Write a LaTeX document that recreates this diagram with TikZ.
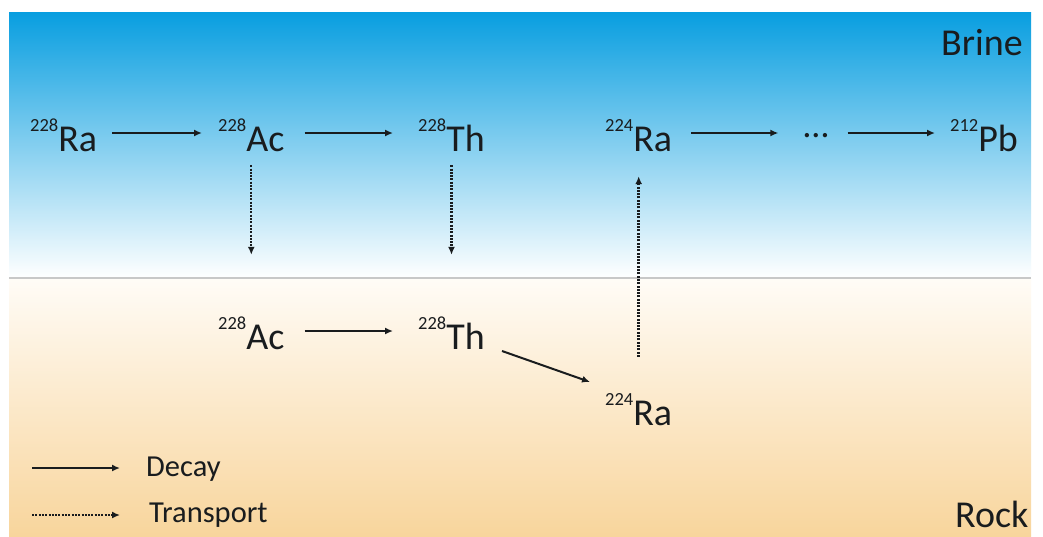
\documentclass[tikz,border=0pt]{standalone}
\usepackage{fontspec}
\setmainfont{Carlito}
\usetikzlibrary{arrows.meta}
\definecolor{ink}{RGB}{25,28,30}
\definecolor{bluetop}{RGB}{8,158,224}
\definecolor{bluemid}{RGB}{95,192,236}
\definecolor{sandtop}{RGB}{255,252,247}
\definecolor{sandbot}{RGB}{248,213,156}
\definecolor{sepline}{RGB}{200,200,200}
\newcommand{\iso}[2]{\raisebox{20pt}{\fontsize{18.5}{19}\selectfont #1}#2}
\tikzset{
  isonode/.style={anchor=base west, inner sep=0pt, text height=36pt, text depth=0pt,
                  font=\fontsize{38}{40}\selectfont, text=ink},
  lbl/.style={anchor=base west, inner sep=0pt, text=ink},
  decay/.style={draw=ink, line width=2pt, -{Latex[length=8pt,width=7pt]}},
  transport/.style={draw=ink, line width=2.4pt, dash pattern=on 2pt off 1.3pt,
                    -{Latex[length=8pt,width=7pt]}}
}
\begin{document}
\begin{tikzpicture}[x=1pt,y=-1pt]
\useasboundingbox (0,0) rectangle (1043,536);
\fill[white] (0,0) rectangle (1043,536);
% backgrounds
\shade[top color=bluetop, middle color=bluemid, bottom color=white] (9,12) rectangle (1031,278);
\shade[top color=sandtop, bottom color=sandbot] (9,278) rectangle (1031,536);
\draw[sepline, line width=1.2pt] (9,278) -- (1031,278);
% region labels
\node[lbl, font=\fontsize{38}{40}\selectfont] (brine) at (941,55) {Brine};
\node[lbl, font=\fontsize{38}{40}\selectfont] (rock) at (955,527) {Rock};
% brine row
\node[isonode] (Ra1) at (30,151) {\iso{228}{Ra}};
\node[isonode] (Ac1) at (218,151) {\iso{228}{Ac}};
\node[isonode] (Th1) at (418,151) {\iso{228}{Th}};
\node[isonode] (Ra2) at (605,151) {\iso{224}{Ra}};
\node[anchor=base, inner sep=0pt, text=ink, font=\fontsize{36}{38}\selectfont] (dots) at (816,137) {…};
\node[isonode] (Pb) at (950,151) {\iso{212}{Pb}};
% rock row
\node[isonode] (Ac2) at (218,349) {\iso{228}{Ac}};
\node[isonode] (Th2) at (418,349) {\iso{228}{Th}};
\node[isonode] (Ra3) at (605,425) {\iso{224}{Ra}};
% decays (brine)
\draw[decay] ([xshift=15pt]Ra1.east) -- ([xshift=-16pt]Ac1.west);
\draw[decay] ([xshift=20pt]Ac1.east) -- ([xshift=-25pt]Th1.west);
\draw[decay] ([xshift=19pt]Ra2.east) -- ([xshift=-25pt]Ra2.east -| dots.west);
\draw[decay] ([xshift=19pt]Ra2.east -| dots.east) -- ([xshift=-15pt]Pb.west);
% decays (rock)
\draw[decay] ([xshift=20pt]Ac2.east) -- ([xshift=-25pt]Th2.west);
\draw[decay] ([xshift=17pt,yshift=-20pt]Th2.east) -- ([xshift=-15pt,yshift=25pt]Ra3.west);
% transports
\draw[transport] ([yshift=-14pt]Ac1.south) -- ([yshift=58pt]Ac2.north);
\draw[transport] ([yshift=-14pt]Th1.south) -- ([yshift=58pt]Th2.north);
\draw[transport] ([yshift=32pt]Ra3.north) -- ([yshift=-25pt]Ra2.south);
% legend
\node[lbl, font=\fontsize{30.5}{32}\selectfont] (dec) at (146,476) {Decay};
\node[lbl, font=\fontsize{30.5}{32}\selectfont] (tra) at (149,522) {Transport};
\coordinate (l1) at (32,468);
\coordinate (l2) at (32,515);
\draw[decay] (l1) -- ([xshift=-26pt]l1 -| dec.west);
\draw[transport] (l2) -- ([xshift=-29pt]l2 -| tra.west);
\end{tikzpicture}
\end{document}
